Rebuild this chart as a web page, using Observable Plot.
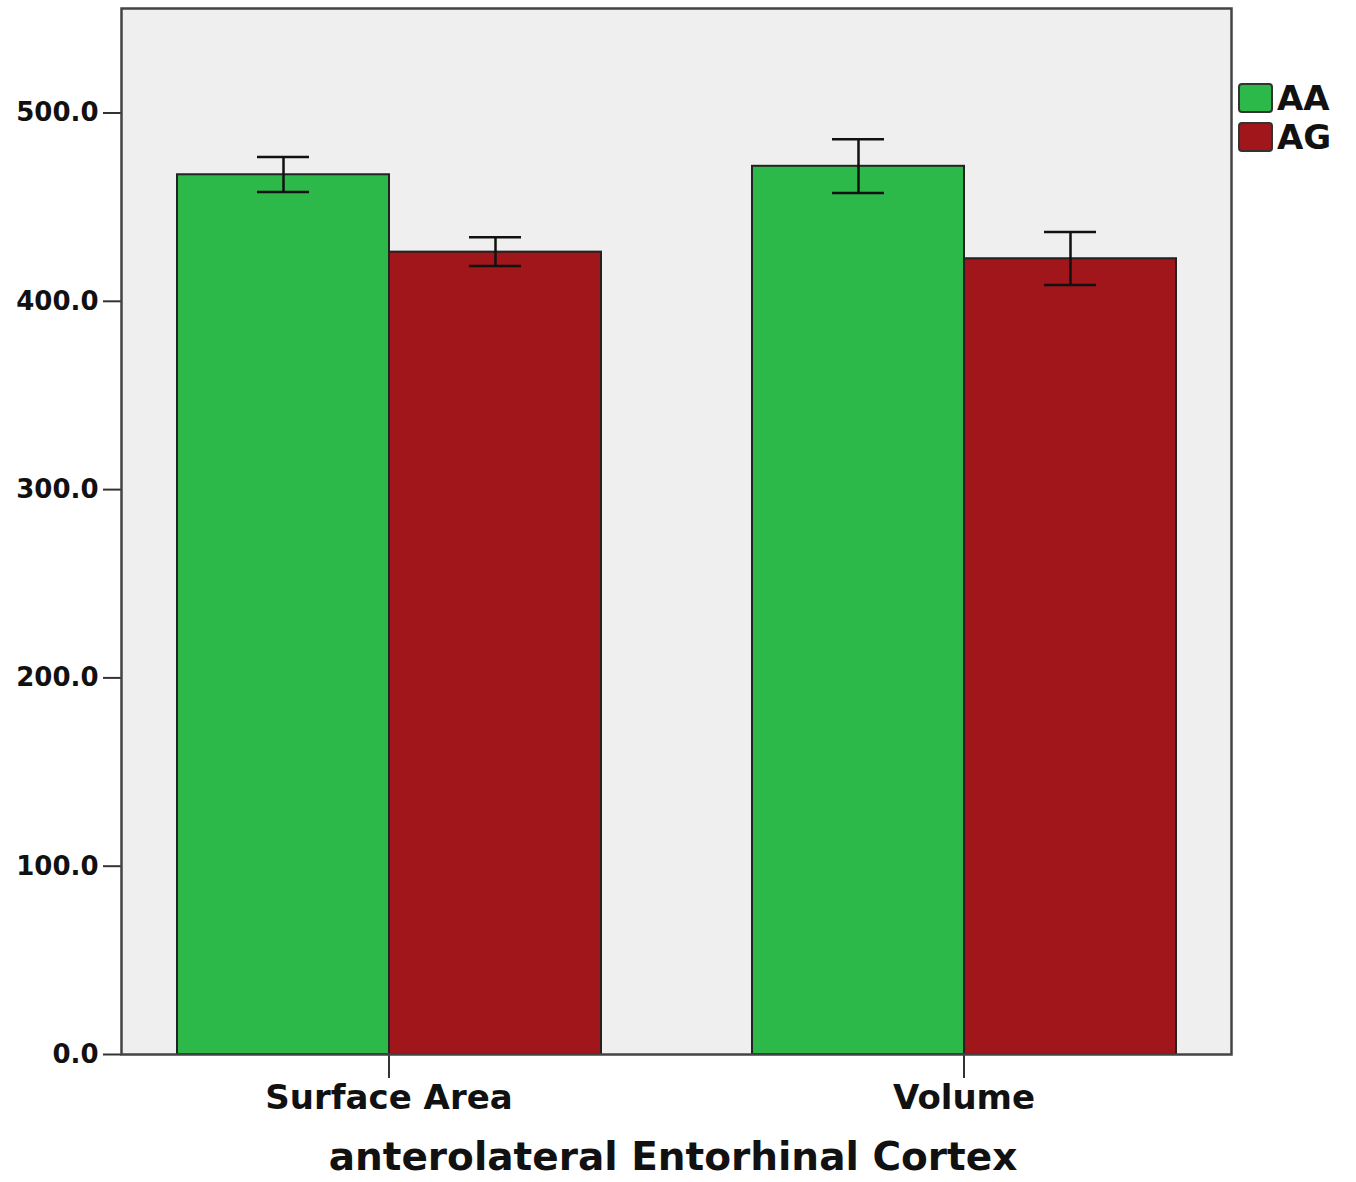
<!DOCTYPE html>
<html>
<head>
<meta charset="utf-8">
<script src="https://cdn.jsdelivr.net/npm/d3@7"></script>
<script src="https://cdn.jsdelivr.net/npm/@observablehq/plot@0.6"></script>
<style>
  body { margin: 0; background: #fff; font-family: "DejaVu Sans", sans-serif; }
  #wrap { position: relative; width: 1356px; height: 1182px; }
  #legend { position: absolute; left: 1238px; top: 78px; font-weight: bold; font-size: 34px; color: #111; }
  .item { display: flex; align-items: center; height: 39px; }
  .sw { width: 35px; height: 30px; border: 2px solid #333; border-radius: 4px; margin-right: 4px; box-sizing: border-box; }
  #caption { position: absolute; left: 0; width: 1346px; top: 1134px; text-align: center; font-weight: bold; font-size: 39px; color: #111; }
</style>
</head>
<body>
<div id="wrap">
  <div id="chart"></div>
  <div id="legend"></div>
  <div id="caption">anterolateral Entorhinal Cortex</div>
</div>
<script>
const categories = ["Surface Area", "Volume"];
const groups = ["AA", "AG"];
const colors = ["#2db84a", "#a0161a"];
const meanAA = [467.2, 471.7];
const meanAG = [426.1, 422.6];
const lowAA = [458.0, 457.5];
const highAA = [476.6, 486.0];
const lowAG = [418.8, 408.6];
const highAG = [434.0, 436.8];
const yTicks = [0, 100, 200, 300, 400, 500];

const data = [];
categories.forEach((c, i) => {
  data.push({category: c, group: "AA", mean: meanAA[i], low: lowAA[i], high: highAA[i]});
  data.push({category: c, group: "AG", mean: meanAG[i], low: lowAG[i], high: highAG[i]});
});

const plot = Plot.plot({
  width: 1356,
  height: 1125,
  marginLeft: 120,
  marginRight: 124,
  marginTop: 8,
  marginBottom: 71,
  style: {fontFamily: "DejaVu Sans, sans-serif", fontWeight: "bold", color: "#111", background: "transparent"},
  fx: {domain: categories, paddingInner: 0.0694, paddingOuter: 0, label: null},
  x: {domain: groups, paddingInner: 0, paddingOuter: 0.258, axis: null},
  y: {domain: [0, 555.5], label: null},
  color: {domain: groups, range: colors},
  marks: [
    Plot.frame({fill: "#efefef", facet: "super"}),
    Plot.axisY({ticks: yTicks, tickFormat: d3.format(".1f"), tickSize: 18, tickPadding: 5, fontSize: 26, label: null, stroke: "#333", strokeWidth: 2}),
    Plot.barY(data, {fx: "category", x: "group", y: "mean", fill: "group", stroke: "#222", strokeWidth: 2}),
    Plot.ruleX(data, {fx: "category", x: "group", y1: "low", y2: "high", stroke: "#111", strokeWidth: 2.5}),
    Plot.tickY(data, {fx: "category", x: "group", y: "low", stroke: "#111", strokeWidth: 2.5, insetLeft: 80, insetRight: 80}),
    Plot.tickY(data, {fx: "category", x: "group", y: "high", stroke: "#111", strokeWidth: 2.5, insetLeft: 80, insetRight: 80}),
    Plot.axisFx({anchor: "bottom", tickSize: 24, tickPadding: 6, fontSize: 34, label: null, stroke: "#333", strokeWidth: 2}),
    Plot.frame({stroke: "#444", strokeWidth: 2.5, facet: "super"})
  ]
});
document.getElementById("chart").appendChild(plot);

const legend = document.getElementById("legend");
groups.forEach((g, i) => {
  const item = document.createElement("div");
  item.className = "item";
  const sw = document.createElement("div");
  sw.className = "sw";
  sw.style.background = colors[i];
  const t = document.createElement("span");
  t.textContent = g;
  item.appendChild(sw);
  item.appendChild(t);
  legend.appendChild(item);
});
</script>
</body>
</html>
